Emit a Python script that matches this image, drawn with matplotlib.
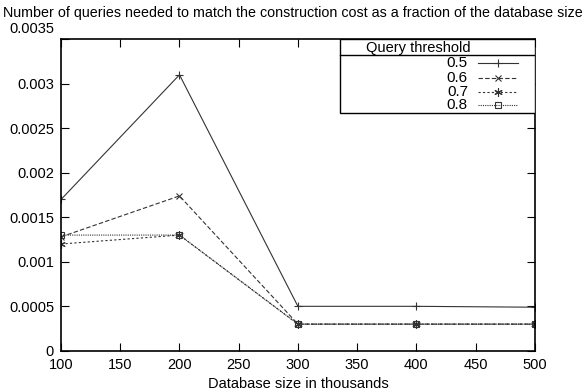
import numpy as np
import matplotlib.pyplot as plt
import matplotlib.transforms as mtransforms
from matplotlib.patches import Rectangle

plt.rcParams['font.family'] = ['Liberation Sans', 'DejaVu Sans']

# data
db_size = [100, 200, 300, 400, 500]
q05 = [0.0017, 0.0031, 0.0005, 0.0005, 0.00049]
q06 = [0.00128, 0.00174, 0.0003, 0.0003, 0.0003]
q07 = [0.0012, 0.0013, 0.0003, 0.0003, 0.0003]
q08 = [0.0013, 0.0013, 0.0003, 0.0003, 0.0003]
labels = ['0.5', '0.6', '0.7', '0.8']
y_ticks = [0, 0.0005, 0.001, 0.0015, 0.002, 0.0025, 0.003, 0.0035]
y_tick_labels = ['0', '0.0005', '0.001', '0.0015', '0.002', '0.0025', '0.003', '0.0035']
x_ticks = [100, 150, 200, 250, 300, 350, 400, 450, 500]

fig = plt.figure(figsize=(5.87, 3.92), dpi=100)
ax = fig.add_axes([0.104, 0.105, 0.807, 0.795])

c = '#333333'
styles = [
    dict(ls='-', marker='+', ms=6),
    dict(ls=(0, (4, 2)), marker='x', ms=5),
    dict(ls=(0, (2, 2)), marker=(6, 2, 0), ms=6),
    dict(ls=(0, (1, 1)), marker='s', ms=4, mfc='none'),
]
series = [q05, q06, q07, q08]
for ys, st in zip(series, styles):
    ax.plot(db_size, ys, color=c, lw=0.8, mew=0.8, **st)

ax.set_xlim(100, 500)
ax.set_ylim(0, 0.0035)
ax.set_xticks(x_ticks)
ax.set_yticks(y_ticks)
ax.set_yticklabels(y_tick_labels)
ax.tick_params(direction='in', length=6, top=True, right=True, labelsize=10.5, pad=5)
for sp in ax.spines.values():
    sp.set_linewidth(1.2)

# top label in the original sits above the frame
lab = ax.get_yticklabels()[-1]
lab.set_transform(lab.get_transform() + mtransforms.ScaledTranslation(0, 0.12, fig.dpi_scale_trans))

ax.set_xlabel('Database size in thousands', fontsize=10.5, labelpad=4)
fig.text(0.005, 0.968, 'Number of queries needed to match the construction cost as a fraction of the database size',
         fontsize=10.3, ha='left', va='center')

# gnuplot style key box
T = ax.transAxes
ax.add_patch(Rectangle((0.589, 0.763), 0.411, 0.237, transform=T, fill=True,
                       fc='white', ec='black', lw=1.0, zorder=5))
ax.plot([0.589, 1.0], [0.949, 0.949], transform=T, color='black', lw=1.0, zorder=6)
ax.text(0.755, 0.972, 'Query threshold', transform=T, ha='center', va='center',
        fontsize=10.5, zorder=6)
key_y = [0.923, 0.877, 0.831, 0.788]
for lbl, st, yk in zip(labels, styles, key_y):
    ax.text(0.859, yk, lbl, transform=T, ha='right', va='center', fontsize=11, zorder=6)
    ax.plot([0.880, 0.922, 0.964], [yk, yk, yk], transform=T, color=c, lw=0.8, mew=0.8,
            markevery=[1], zorder=6, clip_on=False, **st)

fig.savefig('out.png', dpi=100)
